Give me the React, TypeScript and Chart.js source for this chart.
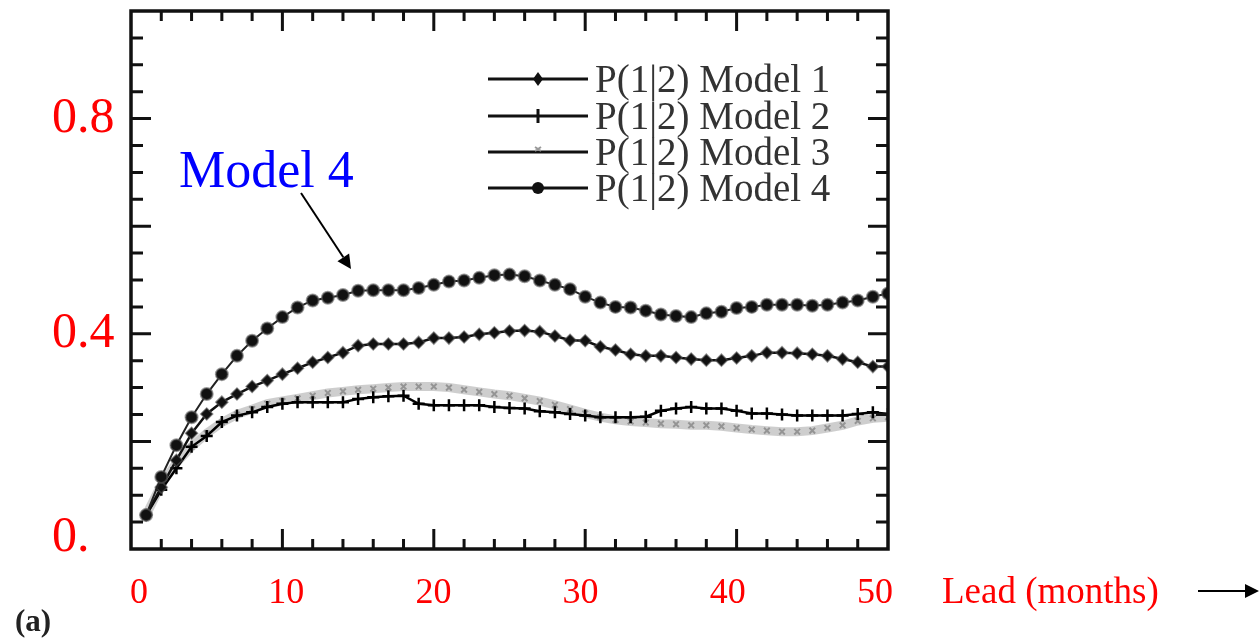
import React, { useEffect, useRef } from "react";
import { Chart, registerables } from "chart.js";

Chart.register(...registerables);

const LEAD = [1, 2, 3, 4, 5, 6, 7, 8, 9, 10, 11, 12, 13, 14, 15, 16, 17, 18, 19, 20, 21, 22, 23, 24, 25, 26, 27, 28, 29, 30, 31, 32, 33, 34, 35, 36, 37, 38, 39, 40, 41, 42, 43, 44, 45, 46, 47, 48, 49, 50];

const MODEL1 = [0.063, 0.115, 0.165, 0.215, 0.251, 0.273, 0.288, 0.302, 0.313, 0.325, 0.336, 0.347, 0.356, 0.365, 0.378, 0.381, 0.381, 0.381, 0.384, 0.392, 0.392, 0.394, 0.399, 0.402, 0.405, 0.406, 0.404, 0.396, 0.388, 0.387, 0.376, 0.37, 0.362, 0.359, 0.359, 0.356, 0.353, 0.351, 0.351, 0.355, 0.359, 0.365, 0.365, 0.364, 0.362, 0.359, 0.353, 0.347, 0.339, 0.339];

const MODEL2 = [0.063, 0.11, 0.15, 0.19, 0.21, 0.236, 0.248, 0.254, 0.264, 0.27, 0.273, 0.273, 0.273, 0.273, 0.279, 0.282, 0.284, 0.285, 0.27, 0.267, 0.267, 0.267, 0.267, 0.264, 0.262, 0.261, 0.256, 0.254, 0.251, 0.248, 0.245, 0.245, 0.245, 0.246, 0.257, 0.261, 0.264, 0.261, 0.261, 0.257, 0.252, 0.252, 0.25, 0.248, 0.248, 0.248, 0.248, 0.251, 0.254, 0.251];

const MODEL3 = [0.063, 0.12, 0.16, 0.19, 0.215, 0.235, 0.25, 0.26, 0.27, 0.275, 0.28, 0.285, 0.29, 0.293, 0.296, 0.298, 0.3, 0.302, 0.302, 0.302, 0.3, 0.296, 0.292, 0.288, 0.285, 0.28, 0.275, 0.268, 0.26, 0.252, 0.245, 0.24, 0.237, 0.235, 0.233, 0.232, 0.23, 0.23, 0.228, 0.225, 0.222, 0.22, 0.218, 0.218, 0.22, 0.225, 0.23, 0.238, 0.243, 0.245];

const MODEL4 = [0.063, 0.134, 0.193, 0.245, 0.288, 0.325, 0.359, 0.387, 0.41, 0.431, 0.449, 0.462, 0.467, 0.472, 0.48, 0.481, 0.481, 0.481, 0.485, 0.491, 0.497, 0.499, 0.504, 0.509, 0.51, 0.507, 0.499, 0.491, 0.483, 0.469, 0.458, 0.45, 0.449, 0.443, 0.436, 0.433, 0.431, 0.438, 0.441, 0.448, 0.45, 0.454, 0.454, 0.454, 0.452, 0.454, 0.458, 0.462, 0.469, 0.475];

const X_TICKS = [0, 10, 20, 30, 40, 50];
const X_LABELS = ["0", "10", "20", "30", "40", "50"];
const Y_TICKS = [0, 0.4, 0.8];
const Y_LABELS = ["0.", "0.4", "0.8"];
const LEGEND_LABELS = ["P(1|2) Model 1", "P(1|2) Model 2", "P(1|2) Model 3", "P(1|2) Model 4"];
const X_TITLE = "Lead (months)";
const CALLOUT = "Model 4";
const PANEL = "(a)";

const SERIF = '"Liberation Serif", "Times New Roman", serif';

function toPts(ys: number[]) {
  return ys.map((y, i) => ({ x: LEAD[i], y }));
}

const framePlugin = {
  id: "frame",
  afterDatasetsDraw(chart: any) {
    const { ctx, chartArea: a, scales } = chart;
    const xs = scales.x;
    const ys = scales.y;
    ctx.save();
    ctx.strokeStyle = "#111";
    ctx.lineWidth = 3;
    ctx.lineCap = "butt";
    for (let v = 2; v < 50; v += 2) {
      const px = xs.getPixelForValue(v);
      const len = v % 10 === 0 ? 20 : 10;
      ctx.beginPath();
      ctx.moveTo(px, a.bottom);
      ctx.lineTo(px, a.bottom - len);
      ctx.moveTo(px, a.top);
      ctx.lineTo(px, a.top + len);
      ctx.stroke();
    }
    for (let k = 1; k < 20; k++) {
      const v = k * 0.05;
      const py = ys.getPixelForValue(v);
      const len = k % 4 === 0 ? 20 : 12;
      ctx.beginPath();
      ctx.moveTo(a.left, py);
      ctx.lineTo(a.left + len, py);
      ctx.moveTo(a.right, py);
      ctx.lineTo(a.right - len, py);
      ctx.stroke();
    }
    ctx.lineWidth = 3.5;
    ctx.strokeRect(a.left, a.top, a.right - a.left, a.bottom - a.top);
    ctx.restore();
  },
  afterDraw(chart: any) {
    const { ctx } = chart;
    ctx.save();
    const rows = [79, 116, 152, 188];
    rows.forEach((y, i) => {
      ctx.strokeStyle = "#111";
      ctx.lineWidth = 3;
      ctx.beginPath();
      ctx.moveTo(488, y);
      ctx.lineTo(588, y);
      ctx.stroke();
      const mx = 538;
      if (i === 0) {
        ctx.fillStyle = "#111";
        ctx.beginPath();
        ctx.moveTo(mx, y - 7);
        ctx.lineTo(mx + 5, y);
        ctx.lineTo(mx, y + 7);
        ctx.lineTo(mx - 5, y);
        ctx.closePath();
        ctx.fill();
      } else if (i === 1) {
        ctx.lineWidth = 3;
        ctx.beginPath();
        ctx.moveTo(mx, y - 7);
        ctx.lineTo(mx, y + 7);
        ctx.stroke();
      } else if (i === 2) {
        ctx.strokeStyle = "#999";
        ctx.lineWidth = 2;
        ctx.beginPath();
        ctx.moveTo(mx - 3, y - 5);
        ctx.lineTo(mx + 3, y - 1);
        ctx.moveTo(mx + 3, y - 5);
        ctx.lineTo(mx - 3, y - 1);
        ctx.stroke();
      } else {
        ctx.fillStyle = "#111";
        ctx.beginPath();
        ctx.arc(mx, y, 6, 0, Math.PI * 2);
        ctx.fill();
      }
      ctx.fillStyle = "#333";
      ctx.font = `39px ${SERIF}`;
      ctx.textAlign = "left";
      ctx.textBaseline = "alphabetic";
      ctx.fillText(LEGEND_LABELS[i], 595, y + 13);
    });

    ctx.fillStyle = "#0000ff";
    ctx.font = `52px ${SERIF}`;
    ctx.textAlign = "left";
    ctx.textBaseline = "alphabetic";
    ctx.fillText(CALLOUT, 179, 187);
    drawArrow(ctx, 301, 193, 351, 269);

    ctx.fillStyle = "#ff0000";
    ctx.font = `37px ${SERIF}`;
    ctx.fillText(X_TITLE, 942, 603);
    drawArrow(ctx, 1198, 591, 1259, 591);

    ctx.fillStyle = "#222";
    ctx.font = `bold 31px ${SERIF}`;
    ctx.fillText(PANEL, 15, 631);
    ctx.restore();
  },
};

function drawArrow(ctx: CanvasRenderingContext2D, x1: number, y1: number, x2: number, y2: number) {
  const ang = Math.atan2(y2 - y1, x2 - x1);
  const hl = 14;
  const hw = 7;
  const bx = x2 - hl * Math.cos(ang);
  const by = y2 - hl * Math.sin(ang);
  ctx.strokeStyle = "#000";
  ctx.fillStyle = "#000";
  ctx.lineWidth = 2;
  ctx.beginPath();
  ctx.moveTo(x1, y1);
  ctx.lineTo(bx, by);
  ctx.stroke();
  ctx.beginPath();
  ctx.moveTo(x2, y2);
  ctx.lineTo(bx + hw * Math.sin(ang), by - hw * Math.cos(ang));
  ctx.lineTo(bx - hw * Math.sin(ang), by + hw * Math.cos(ang));
  ctx.closePath();
  ctx.fill();
}

export default function App() {
  const ref = useRef<HTMLCanvasElement | null>(null);

  useEffect(() => {
    if (!ref.current) return;
    const chart = new Chart(ref.current, {
      type: "line",
      data: {
        datasets: [
          {
            label: LEGEND_LABELS[3],
            data: toPts(MODEL4),
            borderColor: "#222",
            borderWidth: 2,
            pointStyle: "circle",
            pointRadius: 6,
            pointBackgroundColor: "#111",
            pointBorderColor: "rgba(90,90,90,0.6)",
            pointBorderWidth: 2,
            order: 1,
          },
          {
            label: LEGEND_LABELS[0],
            data: toPts(MODEL1),
            borderColor: "#111",
            borderWidth: 2.5,
            pointStyle: "rectRot",
            pointRadius: 6,
            pointBackgroundColor: "#111",
            pointBorderColor: "rgba(80,80,80,0.6)",
            pointBorderWidth: 1.5,
            order: 2,
          },
          {
            label: LEGEND_LABELS[1],
            data: toPts(MODEL2),
            borderColor: "#000",
            borderWidth: 2.5,
            pointStyle: "cross",
            pointRadius: 6,
            pointBorderColor: "#000",
            pointBorderWidth: 2.5,
            order: 3,
          },
          {
            label: LEGEND_LABELS[2],
            data: toPts(MODEL3),
            borderColor: "rgba(165,165,165,0.55)",
            borderWidth: 9,
            pointStyle: "crossRot",
            pointRadius: 4,
            pointBorderColor: "rgba(110,110,110,0.6)",
            pointBorderWidth: 2,
            order: 4,
          },
        ],
      },
      options: {
        animation: false,
        responsive: false,
        maintainAspectRatio: false,
        layout: { padding: { left: 52, top: 11, right: 371, bottom: 0 } },
        plugins: { legend: { display: false }, tooltip: { enabled: false } },
        elements: { line: { tension: 0 } },
        scales: {
          x: {
            type: "linear",
            min: 0,
            max: 50,
            display: false,
          },
          xl: {
            type: "linear",
            position: "bottom",
            min: -0.54,
            max: 50.88,
            grid: { display: false },
            border: { display: false },
            afterBuildTicks: (s: any) => {
              s.ticks = X_TICKS.map((v) => ({ value: v }));
            },
            afterFit: (s: any) => {
              s.height = 93;
            },
            ticks: {
              autoSkip: false,
              maxRotation: 0,
              padding: 15,
              color: "#ff0000",
              font: { family: SERIF, size: 36 },
              callback: (v: any) => {
                const i = X_TICKS.indexOf(Number(v));
                return i >= 0 ? X_LABELS[i] : "";
              },
            },
          },
          y: {
            type: "linear",
            min: 0,
            max: 1,
            grid: { display: false },
            border: { display: false },
            afterBuildTicks: (s: any) => {
              s.ticks = Y_TICKS.map((v) => ({ value: v }));
            },
            afterFit: (s: any) => {
              s.width = 79;
            },
            ticks: {
              autoSkip: false,
              padding: 0,
              crossAlign: "far",
              color: "#ff0000",
              font: { family: SERIF, size: 50, lineHeight: 0.44 },
              callback: (v: any) => {
                const i = Y_TICKS.indexOf(Number(v));
                if (i < 0) return "";
                return i === 0 ? [Y_LABELS[0], ""] : Y_LABELS[i];
              },
            },
          },
        },
      },
      plugins: [framePlugin],
    });
    return () => chart.destroy();
  }, []);

  return (
    <div style={{ position: "absolute", left: 0, top: 0, width: 1259, height: 642, background: "#fff" }}>
      <canvas ref={ref} width={1259} height={642} style={{ width: 1259, height: 642, display: "block" }} />
    </div>
  );
}
